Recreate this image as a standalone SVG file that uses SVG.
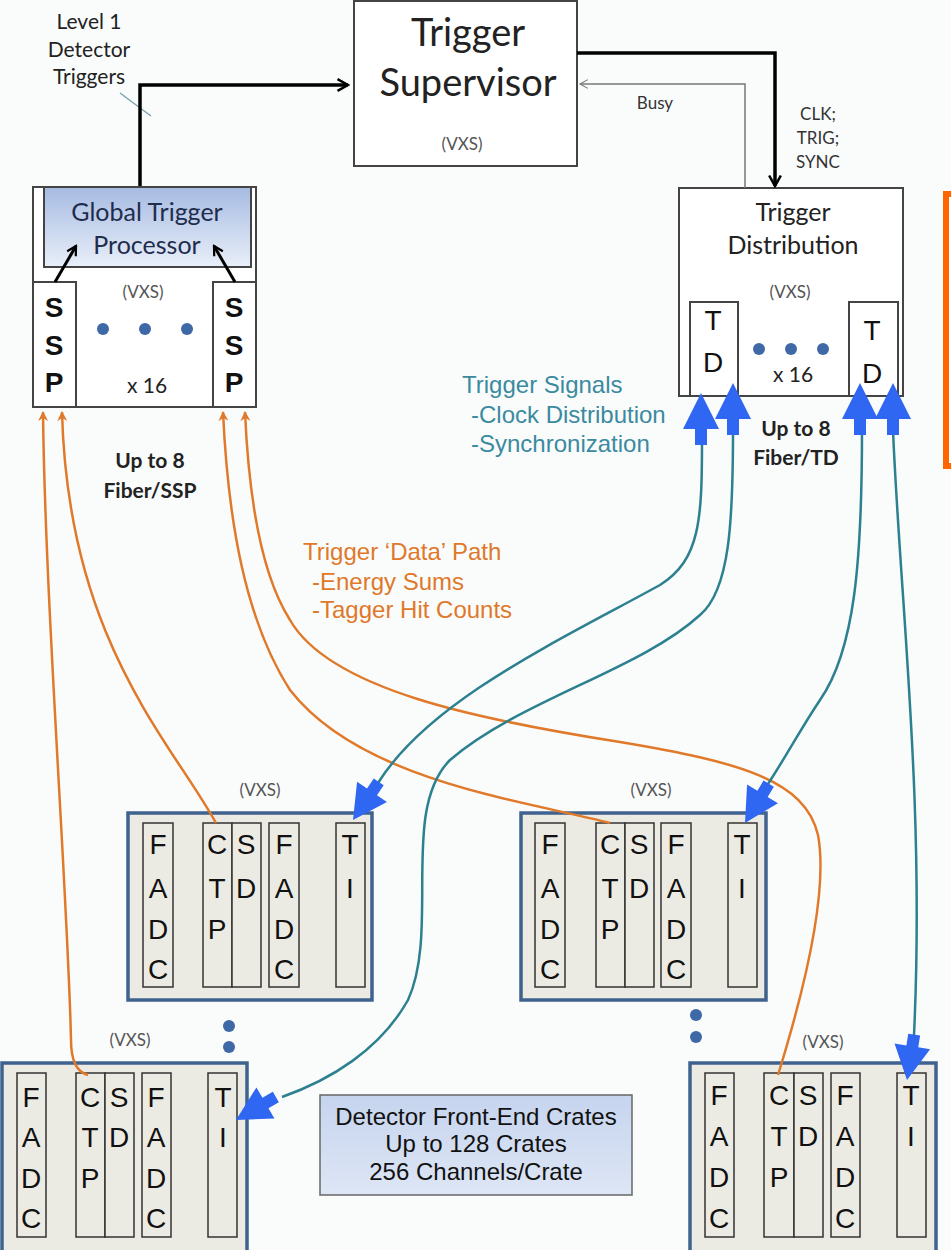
<svg xmlns="http://www.w3.org/2000/svg" width="951" height="1250" viewBox="0 0 951 1250">
<style>
.cal{font-family:Lato,"Open Sans","Liberation Sans",sans-serif;fill:#222}
.ari{font-family:"Liberation Sans",Arial,sans-serif;fill:#111}
.vxs{font-family:Lato,"Liberation Sans",sans-serif;font-size:17px;fill:#555;text-anchor:middle}
.box{fill:#fff;stroke:#444;stroke-width:2}
.crate{fill:#ecebe3;stroke:#3f628e;stroke-width:3.5}
.slot{fill:#ecebe3;stroke:#333;stroke-width:1.5}
.let{font-family:"Liberation Sans",Arial,sans-serif;font-size:28px;fill:#111;text-anchor:middle}
.ssp{font-family:"Liberation Sans",Arial,sans-serif;font-size:28px;font-weight:bold;fill:#111;text-anchor:middle}
.dot{fill:#3e68a6}
.blk{fill:none;stroke:#000;stroke-width:3.5}
.org{fill:none;stroke:#e07a2a;stroke-width:2.5}
.teal{fill:none;stroke:#2d8090;stroke-width:2.5}
.barrow{fill:#2f66f2}
.teal-t{font-family:"Liberation Sans",Arial,sans-serif;font-size:24px;fill:#3a8aa0}
.org-t{font-family:"Liberation Sans",Arial,sans-serif;font-size:24px;fill:#e0782a}
.fib{font-family:Lato,"Liberation Sans",sans-serif;font-size:21px;font-weight:bold;fill:#222;text-anchor:middle}
.sm{font-family:Lato,"Liberation Sans",sans-serif;font-size:17px;fill:#333;text-anchor:middle}
</style>
<defs>
<marker id="chev" viewBox="0 0 12 12" refX="10" refY="6" markerWidth="4" markerHeight="4" orient="auto" markerUnits="strokeWidth">
<path d="M1,1 L10,6 L1,11" fill="none" stroke="#000" stroke-width="2.2"/>
</marker>
<marker id="chevThin" viewBox="0 0 12 12" refX="10" refY="6" markerWidth="7" markerHeight="7" orient="auto" markerUnits="strokeWidth">
<path d="M1,1 L10,6 L1,11" fill="none" stroke="#777" stroke-width="1.3"/>
</marker>
<marker id="oarr" viewBox="0 0 10 10" refX="9" refY="5" markerWidth="4" markerHeight="4" orient="auto" markerUnits="strokeWidth">
<path d="M0,0 L10,5 L0,10 L3,5 Z" fill="#e07a2a"/>
</marker>
<linearGradient id="gtp" x1="0" y1="0" x2="0" y2="1">
<stop offset="0" stop-color="#a6bbe2"/>
<stop offset="1" stop-color="#e9eff9"/>
</linearGradient>
<linearGradient id="lbl" x1="0" y1="0" x2="0" y2="1">
<stop offset="0" stop-color="#c6d4ee"/>
<stop offset="1" stop-color="#dde6f5"/>
</linearGradient>
<polygon id="bigUp" points="0,0 18,36 6,36 6,52 -6,52 -6,36 -18,36"/>
<polygon id="bigHead" points="0,0 -34,-18 -34,-6 -46,-6 -46,6 -34,6 -34,18"/>
</defs>

<rect width="951" height="1250" fill="#fafcfc"/>

<g id="trigger-supervisor">
<rect class="box" x="354" y="1" width="223" height="165"/>
<text class="cal" x="468" y="46" font-size="38" text-anchor="middle">Trigger</text>
<text class="cal" x="468" y="96" font-size="38" text-anchor="middle">Supervisor</text>
<text class="vxs" x="462" y="150">(VXS)</text>
</g>

<g id="level1-label">
<text class="cal" x="89" y="29" font-size="21" text-anchor="middle">Level 1</text>
<text class="cal" x="89" y="57" font-size="21" text-anchor="middle">Detector</text>
<text class="cal" x="89" y="84" font-size="21" text-anchor="middle">Triggers</text>
<line x1="120" y1="93" x2="151" y2="116" stroke="#7fa6b0" stroke-width="1.5"/>
</g>

<g id="global-trigger-processor">
<rect class="box" x="33" y="187" width="223" height="220"/>
<rect x="44" y="187" width="207" height="80" fill="url(#gtp)" stroke="#444" stroke-width="2"/>
<text class="cal" x="147" y="221" font-size="25" text-anchor="middle" style="fill:#1f2d4d">Global Trigger</text>
<text class="cal" x="147" y="254" font-size="25" text-anchor="middle" style="fill:#1f2d4d">Processor</text>
<text class="vxs" x="143" y="298">(VXS)</text>
<circle class="dot" cx="103" cy="329" r="6"/>
<circle class="dot" cx="145" cy="329" r="6"/>
<circle class="dot" cx="187" cy="329" r="6"/>
<text class="cal" x="147" y="393" font-size="21" text-anchor="middle">x 16</text>
</g>
<g id="ssp-left">
<rect class="box" x="33" y="282" width="43" height="125"/>
<text class="ssp" x="54" y="317">S</text>
<text class="ssp" x="54" y="355">S</text>
<text class="ssp" x="54" y="392">P</text>
</g>
<g id="ssp-right">
<rect class="box" x="213" y="282" width="43" height="125"/>
<text class="ssp" x="234" y="317">S</text>
<text class="ssp" x="234" y="355">S</text>
<text class="ssp" x="234" y="392">P</text>
</g>
<g id="ssp-fiber-label">
<text class="fib" x="150" y="468">Up to 8</text>
<text class="fib" x="150" y="498">Fiber/SSP</text>
</g>

<g id="trigger-distribution">
<rect class="box" x="679" y="188" width="224" height="208"/>
<text class="cal" x="793" y="221" font-size="25" text-anchor="middle">Trigger</text>
<text class="cal" x="793" y="254" font-size="25" text-anchor="middle">Distribution</text>
<text class="vxs" x="790" y="298">(VXS)</text>
<circle class="dot" cx="759" cy="349" r="6"/>
<circle class="dot" cx="791" cy="349" r="6"/>
<circle class="dot" cx="823" cy="349" r="6"/>
<text class="cal" x="793" y="382" font-size="21" text-anchor="middle">x 16</text>
</g>
<g id="td-left">
<rect class="box" x="690" y="302" width="48" height="94"/>
<text class="let" x="713" y="330">T</text>
<text class="let" x="713" y="372">D</text>
</g>
<g id="td-right">
<rect class="box" x="849" y="302" width="49" height="94"/>
<text class="let" x="872" y="340">T</text>
<text class="let" x="872" y="383">D</text>
</g>
<g id="td-fiber-label">
<text class="fib" x="796" y="436">Up to 8</text>
<text class="fib" x="796" y="465">Fiber/TD</text>
</g>
<g id="clk-label">
<text class="sm" x="818" y="120">CLK;</text>
<text class="sm" x="818" y="144">TRIG;</text>
<text class="sm" x="818" y="168">SYNC</text>
</g>
<g id="busy-label">
<text class="sm" x="655" y="109">Busy</text>
</g>

<g id="trigger-signals-label">
<text class="teal-t" x="462" y="393">Trigger Signals</text>
<text class="teal-t" x="471" y="423">-Clock Distribution</text>
<text class="teal-t" x="471" y="452">-Synchronization</text>
</g>
<g id="data-path-label">
<text class="org-t" x="303" y="560">Trigger ‘Data’ Path</text>
<text class="org-t" x="312" y="590">-Energy Sums</text>
<text class="org-t" x="312" y="618">-Tagger Hit Counts</text>
</g>

<g id="crate-1">
<text class="vxs" x="260" y="796">(VXS)</text>
<rect class="crate" x="128" y="813" width="244" height="187"/>
<rect class="slot" x="143" y="823" width="30" height="164"/>
<rect class="slot" x="203" y="823" width="29" height="164"/>
<rect class="slot" x="232" y="823" width="29" height="164"/>
<rect class="slot" x="269" y="823" width="30" height="164"/>
<rect class="slot" x="336" y="823" width="29" height="164"/>
<text class="let" x="158" y="854">F</text><text class="let" x="158" y="898">A</text><text class="let" x="158" y="939">D</text><text class="let" x="158" y="979">C</text>
<text class="let" x="217" y="854">C</text><text class="let" x="217" y="898">T</text><text class="let" x="217" y="939">P</text>
<text class="let" x="246" y="854">S</text><text class="let" x="246" y="898">D</text>
<text class="let" x="284" y="854">F</text><text class="let" x="284" y="898">A</text><text class="let" x="284" y="939">D</text><text class="let" x="284" y="979">C</text>
<text class="let" x="350" y="854">T</text><text class="let" x="350" y="898">I</text>
</g>
<g id="crate-2">
<text class="vxs" x="651" y="796">(VXS)</text>
<rect class="crate" x="521" y="813" width="245" height="187"/>
<rect class="slot" x="535" y="823" width="30" height="164"/>
<rect class="slot" x="596" y="823" width="29" height="164"/>
<rect class="slot" x="625" y="823" width="29" height="164"/>
<rect class="slot" x="661" y="823" width="30" height="164"/>
<rect class="slot" x="728" y="823" width="29" height="164"/>
<text class="let" x="550" y="854">F</text><text class="let" x="550" y="898">A</text><text class="let" x="550" y="939">D</text><text class="let" x="550" y="979">C</text>
<text class="let" x="610" y="854">C</text><text class="let" x="610" y="898">T</text><text class="let" x="610" y="939">P</text>
<text class="let" x="639" y="854">S</text><text class="let" x="639" y="898">D</text>
<text class="let" x="676" y="854">F</text><text class="let" x="676" y="898">A</text><text class="let" x="676" y="939">D</text><text class="let" x="676" y="979">C</text>
<text class="let" x="742" y="854">T</text><text class="let" x="742" y="898">I</text>
</g>
<g id="crate-3">
<text class="vxs" x="130" y="1046">(VXS)</text>
<rect class="crate" x="2" y="1063" width="245" height="195"/>
<rect class="slot" x="17" y="1073" width="29" height="164"/>
<rect class="slot" x="76" y="1073" width="29" height="164"/>
<rect class="slot" x="105" y="1073" width="29" height="164"/>
<rect class="slot" x="142" y="1073" width="29" height="164"/>
<rect class="slot" x="208" y="1073" width="29" height="164"/>
<text class="let" x="31" y="1107">F</text><text class="let" x="31" y="1147">A</text><text class="let" x="31" y="1188">D</text><text class="let" x="31" y="1228">C</text>
<text class="let" x="90" y="1107">C</text><text class="let" x="90" y="1147">T</text><text class="let" x="90" y="1188">P</text>
<text class="let" x="119" y="1107">S</text><text class="let" x="119" y="1147">D</text>
<text class="let" x="156" y="1107">F</text><text class="let" x="156" y="1147">A</text><text class="let" x="156" y="1188">D</text><text class="let" x="156" y="1228">C</text>
<text class="let" x="223" y="1107">T</text><text class="let" x="223" y="1147">I</text>
</g>
<g id="crate-4">
<text class="vxs" x="823" y="1048">(VXS)</text>
<rect class="crate" x="690" y="1063" width="246" height="195"/>
<rect class="slot" x="705" y="1073" width="29" height="164"/>
<rect class="slot" x="764" y="1073" width="30" height="164"/>
<rect class="slot" x="794" y="1073" width="29" height="164"/>
<rect class="slot" x="831" y="1073" width="29" height="164"/>
<rect class="slot" x="897" y="1073" width="29" height="164"/>
<text class="let" x="719" y="1105">F</text><text class="let" x="719" y="1146">A</text><text class="let" x="719" y="1187">D</text><text class="let" x="719" y="1228">C</text>
<text class="let" x="779" y="1105">C</text><text class="let" x="779" y="1146">T</text><text class="let" x="779" y="1187">P</text>
<text class="let" x="808" y="1105">S</text><text class="let" x="808" y="1146">D</text>
<text class="let" x="845" y="1105">F</text><text class="let" x="845" y="1146">A</text><text class="let" x="845" y="1187">D</text><text class="let" x="845" y="1228">C</text>
<text class="let" x="911" y="1105">T</text><text class="let" x="911" y="1146">I</text>
</g>
<g id="crate-dots">
<circle class="dot" cx="229" cy="1026" r="6"/>
<circle class="dot" cx="229" cy="1047" r="6"/>
<circle class="dot" cx="696" cy="1015" r="6"/>
<circle class="dot" cx="696" cy="1037" r="6"/>
</g>
<g id="crates-label">
<rect x="320" y="1095" width="312" height="100" fill="url(#lbl)" stroke="#666" stroke-width="1.5"/>
<text class="ari" x="476" y="1125" font-size="24" text-anchor="middle">Detector Front-End Crates</text>
<text class="ari" x="476" y="1152" font-size="24" text-anchor="middle">Up to 128 Crates</text>
<text class="ari" x="476" y="1180" font-size="24" text-anchor="middle">256 Channels/Crate</text>
</g>

<g id="side-panel">
<rect x="946" y="194" width="20" height="272" fill="#fff" stroke="#ff6600" stroke-width="6"/>
</g>

<g id="connectors">
<path class="blk" d="M140,186 V85 H348" marker-end="url(#chev)"/>
<path class="blk" d="M577,53 H775 V186" marker-end="url(#chev)"/>
<path d="M745,188 V84 H580" fill="none" stroke="#777" stroke-width="1.5" marker-end="url(#chevThin)"/>
<path d="M55,282 L76,246" fill="none" stroke="#000" stroke-width="3" marker-end="url(#chev)"/>
<path d="M235,282 L214,246" fill="none" stroke="#000" stroke-width="3" marker-end="url(#chev)"/>

<path class="org" d="M88,1075 C76,1072 71,1058 71,1040 C68,900 45,600 43,412" marker-end="url(#oarr)"/>
<path class="org" d="M216,823 C170,740 68,640 62,412" marker-end="url(#oarr)"/>
<path class="org" d="M610,823 C520,800 360,780 290,690 C245,620 228,520 223,412" marker-end="url(#oarr)"/>
<path class="org" d="M778,1075 C795,1020 830,900 818,835 C805,780 740,762 620,742 C480,720 330,690 290,620 C258,570 248,480 245,412" marker-end="url(#oarr)"/>

<path class="teal" d="M702,440 C702,520 700,560 660,585 C560,640 430,700 378,783"/>
<path class="teal" d="M733,430 C733,520 730,590 700,615 C640,670 520,700 450,760 C400,810 440,930 408,1000 C380,1050 330,1080 282,1097"/>
<path class="teal" d="M862,430 C862,560 855,650 820,700 C800,730 790,750 768,784"/>
<path class="teal" d="M893,430 C900,600 925,800 914,1035"/>

<use href="#bigUp" class="barrow" x="701" y="393"/>
<use href="#bigUp" class="barrow" x="733" y="383"/>
<use href="#bigUp" class="barrow" x="860" y="383"/>
<use href="#bigUp" class="barrow" x="893" y="383"/>
<use href="#bigHead" class="barrow" transform="translate(353,820) rotate(124)"/>
<use href="#bigHead" class="barrow" transform="translate(236,1120) rotate(150)"/>
<use href="#bigHead" class="barrow" transform="translate(745,823) rotate(121)"/>
<use href="#bigHead" class="barrow" transform="translate(907,1080) rotate(99)"/>
</g>
</svg>
